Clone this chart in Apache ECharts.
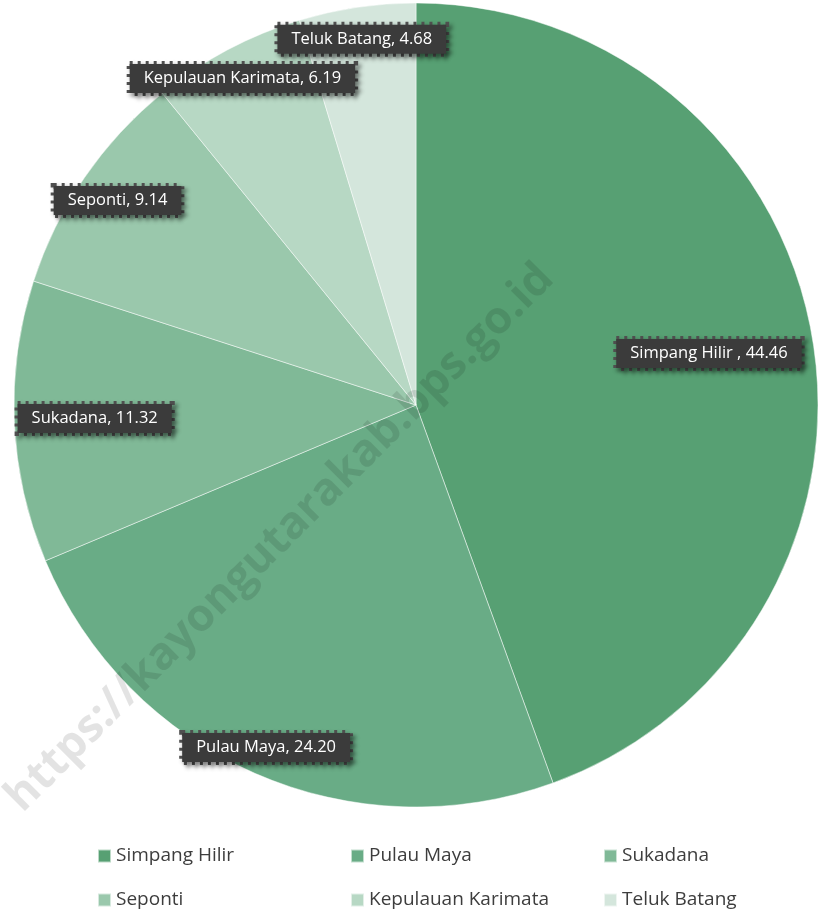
<!DOCTYPE html>
<html>
<head>
<meta charset="utf-8">
<script src="https://cdn.jsdelivr.net/npm/echarts@6/dist/echarts.min.js"></script>
<style>
  html, body { margin: 0; padding: 0; background: #fff; }
  #echart { width: 821px; height: 911px; }
</style>
</head>
<body>
<div id="echart"></div>
<script>
// data
var names = ['Simpang Hilir ', 'Pulau Maya', 'Sukadana', 'Seponti', 'Kepulauan Karimata', 'Teluk Batang'];
var values = [44.46, 24.20, 11.32, 9.14, 6.19, 4.68];
var colors = ['#57a073', '#69ac86', '#80b997', '#9ac8ac', '#b7d8c4', '#d4e6dc'];

// label distance from centre, as share of radius
var labelR = [0.74, 0.93, 0.80, 0.90, 0.92, 0.92];

var cx = 416, cy = 405, R = 402;

var total = 0;
for (var i = 0; i < values.length; i++) total += values[i];

// mid angle of each slice (clockwise from top)
var mids = [];
var acc = 0;
for (var i = 0; i < values.length; i++) {
    mids.push((acc + values[i] / 2) / total * Math.PI * 2);
    acc += values[i];
}

var pieData = [];
for (var i = 0; i < names.length; i++) {
    pieData.push({ name: names[i], value: values[i], itemStyle: { color: colors[i] } });
}

var myChart = echarts.init(document.getElementById('echart'));
var option = {
    animation: false,
    legend: {
        left: 97,
        top: 844,
        width: 740,
        padding: 0,
        itemWidth: 13,
        itemHeight: 13,
        itemGap: 20,
        icon: 'rect',
        selectedMode: false,
        data: names,
        formatter: function (n) { return '{a|' + n + '}'; },
        textStyle: {
            rich: {
                a: { width: 214, height: 24, lineHeight: 24, fontSize: 19, color: '#3d3d3d', fontFamily: 'Open Sans' }
            }
        }
    },
    // watermark
    graphic: [{
        type: 'text',
        x: 280,
        y: 538,
        rotation: Math.PI / 4,
        z: 100,
        silent: true,
        style: {
            text: 'https://kayongutarakab.bps.go.id',
            fontSize: 45,
            fontWeight: 'bold',
            fontFamily: 'Open Sans',
            fill: 'rgba(0,0,0,0.11)',
            align: 'center',
            verticalAlign: 'middle'
        }
    }],
    series: [{
        type: 'pie',
        center: [cx, cy],
        radius: R,
        startAngle: 90,
        clockwise: true,
        data: pieData,
        itemStyle: { borderColor: 'rgba(255,255,255,0.6)', borderWidth: 0.8 },
        label: {
            position: 'inside',
            formatter: function (p) { return p.name + ', ' + p.value.toFixed(2); },
            color: '#fff',
            fontSize: 16.5,
            fontFamily: 'Open Sans',
            backgroundColor: '#3b3b3b',
            borderColor: '#4f4f4f',
            borderWidth: 3,
            borderType: [3, 5],
            padding: [6, 14],
            shadowBlur: 4,
            shadowOffsetX: 3,
            shadowOffsetY: 3,
            shadowColor: 'rgba(0,0,0,0.45)'
        },
        labelLayout: function (p) {
            var a = mids[p.dataIndex];
            var r = R * labelR[p.dataIndex];
            return {
                x: cx + r * Math.sin(a),
                y: cy - r * Math.cos(a),
                align: 'center',
                verticalAlign: 'middle'
            };
        },
        emphasis: { disabled: true }
    }]
};
myChart.setOption(option);
</script>
</body>
</html>
